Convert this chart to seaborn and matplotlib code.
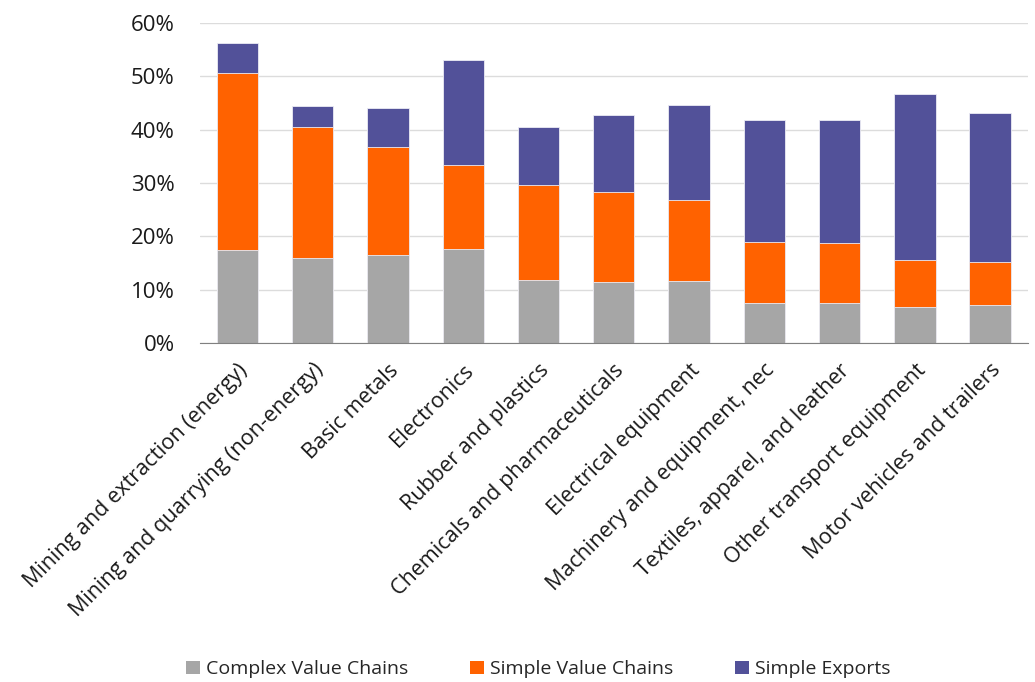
import matplotlib
matplotlib.use("Agg")
import matplotlib.pyplot as plt
import seaborn as sns
import pandas as pd
from matplotlib.ticker import PercentFormatter
from matplotlib.patches import Patch

# data (shares of exports)
sectors = [
    "Mining and extraction (energy)",
    "Mining and quarrying (non-energy)",
    "Basic metals",
    "Electronics",
    "Rubber and plastics",
    "Chemicals and pharmaceuticals",
    "Electrical equipment",
    "Machinery and equipment, nec",
    "Textiles, apparel, and leather",
    "Other transport equipment",
    "Motor vehicles and trailers",
]
complex_chains = [17.4, 15.9, 16.6, 17.6, 11.9, 11.4, 11.6, 7.5, 7.6, 6.8, 7.1]
simple_chains = [33.2, 24.6, 20.15, 15.8, 17.7, 16.85, 15.15, 11.5, 11.2, 8.8, 8.15]
simple_exports = [5.65, 4.0, 7.25, 19.7, 10.9, 14.5, 17.85, 22.75, 22.95, 31.15, 27.95]

series_names = ["Complex Value Chains", "Simple Value Chains", "Simple Exports"]
colors = ["#A6A6A6", "#FF6200", "#525199"]

df = pd.DataFrame({
    "sector": sectors,
    "complex": complex_chains,
    "simple": simple_chains,
    "exports": simple_exports,
})
df["lvl1"] = df["complex"]
df["lvl2"] = df["complex"] + df["simple"]
df["lvl3"] = df["lvl2"] + df["exports"]

sns.set_style("white")
plt.rcParams["font.family"] = ["Open Sans", "DejaVu Sans"]

fig = plt.figure(figsize=(10.35, 6.82), dpi=100)
ax = fig.add_axes([0.193, 0.497, 0.800, 0.469])

# stacked bars: draw cumulative totals from the top layer down
for col, c in zip(["lvl3", "lvl2", "lvl1"], colors[::-1]):
    sns.barplot(data=df, x="sector", y=col, color=c, width=0.55,
                edgecolor="#ECECF4", linewidth=0.6, saturation=1, ax=ax)

ax.set_xlim(-0.5, len(sectors) - 0.5)
ax.set_ylim(0, 60)
ax.set_yticks(range(0, 61, 10))
ax.yaxis.set_major_formatter(PercentFormatter(decimals=0))
ax.set_xlabel("")
ax.set_ylabel("")
ax.set_axisbelow(True)
ax.grid(axis="y", color="#DCDCDC", linewidth=1)

for s in ["top", "right", "left"]:
    ax.spines[s].set_visible(False)
ax.spines["bottom"].set_color("#808080")

ax.set_xticks(range(len(sectors)))
ax.set_xticklabels(sectors, rotation=45, ha="right", rotation_mode="anchor",
                   fontsize=15.5, color="#1a1a1a")
ax.set_xticks([i - 0.5 for i in range(len(sectors) + 1)], minor=True)
ax.tick_params(axis="x", which="major", length=0, pad=12)
ax.tick_params(axis="x", which="minor", length=6, color="#808080", direction="out")
ax.tick_params(axis="y", length=0, labelsize=16, labelcolor="#1a1a1a", pad=18)

handles = [Patch(facecolor=c, edgecolor="none") for c in colors]
fig.legend(handles, series_names, loc="lower center", bbox_to_anchor=(0.52, -0.02),
           ncol=3, frameon=False, fontsize=14, handlelength=0.7, handleheight=0.7,
           columnspacing=3.2, handletextpad=0.3)

fig.savefig("out.png", dpi=100)
